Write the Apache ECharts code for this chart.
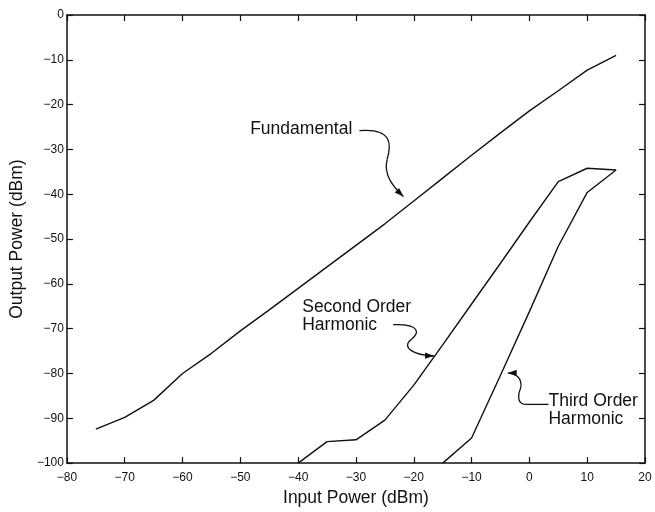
<!DOCTYPE html>
<html>
<head>
<meta charset="utf-8">
<script src="https://cdn.jsdelivr.net/npm/echarts@6/dist/echarts.min.js"></script>
<style>
  html, body { margin: 0; padding: 0; background: #fff; }
  #main { width: 655px; height: 512px; }
</style>
</head>
<body>
<div id="main"></div>
<script>
// input power (dBm) -> output power (dBm)
const fundamentalIn = [-75, -70, -65, -60, -55, -50, -45, -40, -35, -30, -25, -20, -15, -10, -5, 0, 5, 10, 15];
const fundamentalOut = [-92.4, -89.8, -86, -80, -75.5, -70.5, -65.8, -61, -56.2, -51.4, -46.6, -41.5, -36.4, -31.3, -26.3, -21.4, -16.9, -12.3, -9];

const secondIn = [-40, -35, -30, -25, -20, -15, -10, -5, 0, 5, 10, 15];
const secondOut = [-100, -95.2, -94.8, -90.4, -82.6, -73.6, -64.5, -55.4, -46.2, -37.2, -34.2, -34.6];

const thirdIn = [-15, -10, -5, 0, 5, 10, 15];
const thirdOut = [-100, -94.4, -80.4, -66.2, -51.6, -39.6, -34.6];

const xTicks = [-80, -70, -60, -50, -40, -30, -20, -10, 0, 10, 20];
const yTicks = [0, -10, -20, -30, -40, -50, -60, -70, -80, -90, -100];

function pairs(xs, ys) {
  return xs.map((x, i) => [x, ys[i]]);
}

const fmt = (v) => (v < 0 ? "\u2212" + Math.abs(v) : String(v));

let chartDom = document.getElementById("main");
let myChart = echarts.init(chartDom, null, { renderer: "canvas" });

const ink = "#111";
const font = "Liberation Sans";
const axisLine = { show: true, onZero: false, lineStyle: { color: ink, width: 1.5 } };
const axisTick = { show: true, inside: true, length: 6, lineStyle: { color: ink, width: 1.2 } };

let option = {
  backgroundColor: "#fff",
  animation: false,
  grid: { left: 64, right: 10, top: 15, bottom: 40, containLabel: false },
  xAxis: [
    {
      type: "value",
      min: xTicks[0],
      max: xTicks[xTicks.length - 1],
      interval: 10,
      position: "bottom",
      axisLine: axisLine,
      axisTick: axisTick,
      splitLine: { show: false },
      axisLabel: { color: ink, fontFamily: font, fontSize: 12, margin: 9, formatter: fmt },
      name: "Input Power (dBm)",
      nameLocation: "middle",
      nameGap: 24,
      nameTextStyle: { color: ink, fontFamily: font, fontSize: 17.5 },
    },
    {
      type: "value",
      min: xTicks[0],
      max: xTicks[xTicks.length - 1],
      interval: 10,
      position: "top",
      axisLine: axisLine,
      axisTick: axisTick,
      splitLine: { show: false },
      axisLabel: { show: false },
    },
  ],
  yAxis: [
    {
      type: "value",
      min: yTicks[yTicks.length - 1],
      max: yTicks[0],
      interval: 10,
      position: "left",
      axisLine: axisLine,
      axisTick: axisTick,
      splitLine: { show: false },
      axisLabel: { color: ink, fontFamily: font, fontSize: 12, margin: 3, formatter: fmt },
      name: "Output Power (dBm)",
      nameLocation: "middle",
      nameGap: 34,
      nameTextStyle: { color: ink, fontFamily: font, fontSize: 17.5 },
    },
    {
      type: "value",
      min: yTicks[yTicks.length - 1],
      max: yTicks[0],
      interval: 10,
      position: "right",
      axisLine: axisLine,
      axisTick: axisTick,
      splitLine: { show: false },
      axisLabel: { show: false },
    },
  ],
  series: [
    {
      name: "Fundamental",
      type: "line",
      data: pairs(fundamentalIn, fundamentalOut),
      showSymbol: false,
      lineStyle: { color: ink, width: 1.4 },
    },
    {
      name: "Second Order Harmonic",
      type: "line",
      data: pairs(secondIn, secondOut),
      showSymbol: false,
      lineStyle: { color: ink, width: 1.4 },
    },
    {
      name: "Third Order Harmonic",
      type: "line",
      data: pairs(thirdIn, thirdOut),
      showSymbol: false,
      lineStyle: { color: ink, width: 1.4 },
    },
  ],
};
myChart.setOption(option);

// callout labels, in data coordinates
const labels = [
  { text: "Fundamental", at: [-48.3, -25.5] },
  { text: "Second Order\nHarmonic", at: [-39.3, -67.2] },
  { text: "Third Order\nHarmonic", at: [3.3, -88.2] },
];
// arrows: list of segments, 2 points = straight, 4 points = cubic bezier; last point is the tip
const arrows = [
  [
    [[-29.4, -25.8], [-23.55, -25.2], [-23.9, -29.1], [-24.6, -32.2]],
    [[-24.6, -32.2], [-25.3, -35.7], [-23.55, -38.3], [-21.8, -40.5]],
  ],
  [
    [[-23.55, -69.1], [-18.7, -68.9], [-19.1, -71.1], [-20.45, -72.4]],
    [[-20.45, -72.4], [-22.2, -74.2], [-20.1, -75.9], [-16.5, -76.1]],
  ],
  [
    [[3.3, -86.9], [-0.6, -86.9]],
    [[-0.6, -86.9], [-2.4, -86.9], [-1.85, -84.2], [-1.5, -83.2]],
    [[-1.5, -83.2], [-1.2, -81.0], [-2.4, -79.9], [-3.75, -79.9]],
  ],
];

function px(p) {
  return myChart.convertToPixel({ gridIndex: 0 }, p);
}

let elements = [];
labels.forEach((l) => {
  const p = px(l.at);
  elements.push({
    type: "text",
    x: p[0],
    y: p[1],
    style: {
      text: l.text,
      fill: ink,
      font: "17.5px " + font,
      lineHeight: 17.5,
      textAlign: "left",
      textVerticalAlign: "middle",
    },
  });
});

arrows.forEach((segs) => {
  segs.forEach((s) => {
    const q = s.map(px);
    if (q.length === 2) {
      elements.push({
        type: "line",
        shape: { x1: q[0][0], y1: q[0][1], x2: q[1][0], y2: q[1][1] },
        style: { stroke: ink, lineWidth: 1.3 },
      });
    } else {
      elements.push({
        type: "bezierCurve",
        shape: {
          x1: q[0][0], y1: q[0][1],
          cpx1: q[1][0], cpy1: q[1][1],
          cpx2: q[2][0], cpy2: q[2][1],
          x2: q[3][0], y2: q[3][1],
        },
        style: { stroke: ink, lineWidth: 1.3, fill: null },
      });
    }
  });
  const last = segs[segs.length - 1].map(px);
  const tip = last[last.length - 1];
  const from = last[last.length - 2];
  const ang = Math.atan2(tip[1] - from[1], tip[0] - from[0]);
  const len = 9, half = 3.2;
  const bx = tip[0] - len * Math.cos(ang), by = tip[1] - len * Math.sin(ang);
  elements.push({
    type: "polygon",
    shape: {
      points: [
        tip,
        [bx + half * Math.sin(ang), by - half * Math.cos(ang)],
        [bx - half * Math.sin(ang), by + half * Math.cos(ang)],
      ],
    },
    style: { fill: ink },
  });
});

myChart.setOption({ graphic: elements });
</script>
</body>
</html>
